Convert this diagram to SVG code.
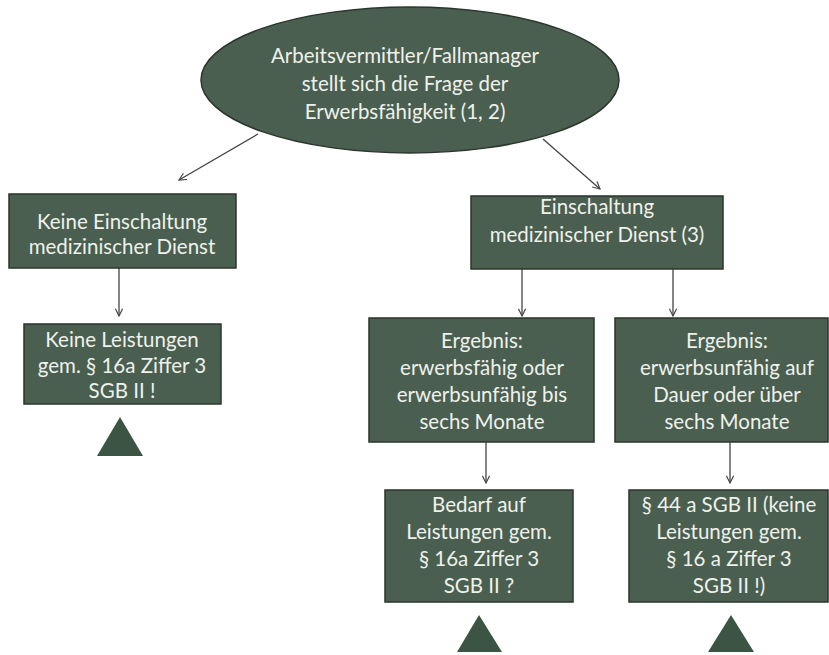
<svg xmlns="http://www.w3.org/2000/svg" width="829" height="655" viewBox="0 0 829 655">
<defs>
<style>
.n{fill:#4a5f4f;stroke:#2b352d;stroke-width:1.5}
.t{font-family:Lato,"Open Sans","Liberation Sans",sans-serif;font-size:20.5px;fill:#eef1ec;text-anchor:middle}
.c{stroke:#444;stroke-width:1.3;fill:none}
.tri{fill:#3b5443}
</style>
<marker id="ah" viewBox="0 0 10 10" refX="9" refY="5" markerWidth="9" markerHeight="9" orient="auto" markerUnits="userSpaceOnUse">
<path d="M1,1 L9,5 L1,9" fill="none" stroke="#444" stroke-width="1.3"/>
</marker>
</defs>
<rect width="829" height="655" fill="#ffffff"/>
<g id="connectors">
<line class="c" x1="258" y1="134" x2="179" y2="180" marker-end="url(#ah)"/>
<line class="c" x1="543" y1="139" x2="600" y2="189" marker-end="url(#ah)"/>
<line class="c" x1="119" y1="268" x2="119" y2="316" marker-end="url(#ah)"/>
<line class="c" x1="522" y1="269" x2="522" y2="316" marker-end="url(#ah)"/>
<line class="c" x1="673" y1="269" x2="673" y2="316" marker-end="url(#ah)"/>
<line class="c" x1="486" y1="442" x2="486" y2="483" marker-end="url(#ah)"/>
<line class="c" x1="730" y1="442" x2="730" y2="483" marker-end="url(#ah)"/>
</g>
<g id="start">
<ellipse class="n" cx="410" cy="80" rx="209" ry="73"/>
<text class="t"><tspan x="405" y="63">Arbeitsvermittler/Fallmanager</tspan><tspan x="405" y="91">stellt sich die Frage der</tspan><tspan x="405" y="119">Erwerbsfähigkeit (1, 2)</tspan></text>
</g>
<g id="keine-einschaltung">
<rect class="n" x="9" y="194" width="227" height="74"/>
<text class="t"><tspan x="122" y="229">Keine Einschaltung</tspan><tspan x="122" y="254">medizinischer Dienst</tspan></text>
</g>
<g id="keine-leistungen">
<rect class="n" x="24" y="324" width="197" height="80"/>
<text class="t"><tspan x="122" y="347">Keine Leistungen</tspan><tspan x="122" y="373">gem. § 16a Ziffer 3</tspan><tspan x="122" y="398">SGB II !</tspan></text>
</g>
<g id="einschaltung">
<rect class="n" x="471" y="196" width="252" height="73"/>
<text class="t"><tspan x="597" y="214">Einschaltung</tspan><tspan x="597" y="242">medizinischer Dienst (3)</tspan></text>
</g>
<g id="ergebnis-fähig">
<rect class="n" x="369" y="318" width="225" height="124"/>
<text class="t"><tspan x="482" y="348">Ergebnis:</tspan><tspan x="482" y="375">erwerbsfähig oder</tspan><tspan x="482" y="402">erwerbsunfähig bis</tspan><tspan x="482" y="429">sechs Monate</tspan></text>
</g>
<g id="ergebnis-unfähig">
<rect class="n" x="615" y="318" width="213" height="124"/>
<text class="t"><tspan x="727" y="348">Ergebnis:</tspan><tspan x="727" y="375">erwerbsunfähig auf</tspan><tspan x="727" y="402">Dauer oder über</tspan><tspan x="727" y="429">sechs Monate</tspan></text>
</g>
<g id="bedarf">
<rect class="n" x="385" y="490" width="188" height="112"/>
<text class="t"><tspan x="479" y="512">Bedarf auf</tspan><tspan x="479" y="539">Leistungen gem.</tspan><tspan x="479" y="566">§ 16a Ziffer 3</tspan><tspan x="479" y="593">SGB II ?</tspan></text>
</g>
<g id="par44a">
<rect class="n" x="629" y="490" width="199" height="112"/>
<text class="t"><tspan x="729" y="512">§ 44 a SGB II (keine</tspan><tspan x="729" y="539">Leistungen gem.</tspan><tspan x="729" y="566">§ 16 a Ziffer 3</tspan><tspan x="729" y="593">SGB II !)</tspan></text>
</g>
<g id="triangle-1"><polygon class="tri" points="120,417 97,456 143,456"/></g>
<g id="triangle-2"><polygon class="tri" points="479,615 457,652 502,652"/></g>
<g id="triangle-3"><polygon class="tri" points="731,615 708,652 754,652"/></g>
</svg>
